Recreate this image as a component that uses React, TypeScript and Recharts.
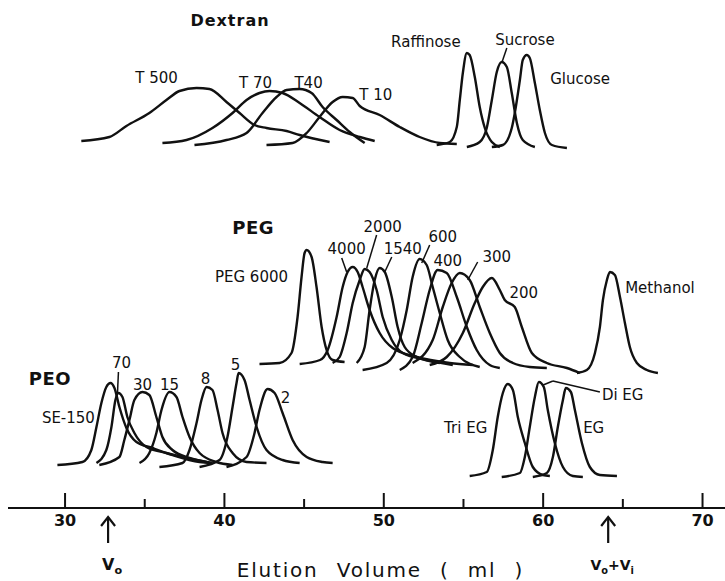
import React from "react";
import { LineChart, Line, XAxis, YAxis, ReferenceDot, ReferenceLine } from "recharts";

// ---- Chromatograms: elution volume (ml) and detector response (arb. units, stacked) ----
// Dextran group
const t500Vol = [31.02, 32.78, 33.85, 35.29, 36.36, 37.18, 38.25, 39.06, 40.13, 40.95, 41.89, 42.64, 43.9, 44.72, 46.6];
const t500Sig = [378, 382, 393, 406, 419, 428, 431, 430, 417, 406, 394, 391, 388, 384, 377];
const t70Vol = [36.11, 37.62, 39.25, 40.51, 41.39, 42.2, 42.83, 43.65, 44.72, 45.97, 47.23, 48.49, 49.43];
const t70Sig = [376, 379, 391, 406, 419, 426, 428, 426, 416, 402, 389, 382, 378];
const t40Vol = [38.12, 40.13, 41.39, 42.39, 43.27, 43.9, 44.72, 45.47, 46.16, 47.04, 47.86, 48.8];
const t40Sig = [374, 379, 386, 406, 422, 429, 430, 426, 412, 399, 387, 376];
const t10Vol = [42.64, 44.28, 45.16, 45.97, 46.79, 47.42, 48.05, 48.49, 49.74, 51.0, 52.25, 53.51, 54.58];
const t10Sig = [374, 376, 386, 402, 417, 422, 421, 413, 404, 392, 382, 376, 375];
const raffVol = [53.32, 54.14, 54.58, 54.77, 54.96, 55.21, 55.39, 55.71, 56.02, 56.34, 56.78, 57.28];
const raffSig = [374, 377, 392, 419, 446, 466, 464, 442, 412, 391, 377, 372];
const sucVol = [55.21, 56.02, 56.46, 56.78, 57.09, 57.4, 57.72, 58.03, 58.35, 58.72, 59.48];
const sucSig = [372, 377, 391, 419, 447, 457, 452, 426, 396, 379, 372];
const gluVol = [56.78, 57.47, 58.03, 58.22, 58.54, 58.72, 58.97, 59.16, 59.48, 59.79, 60.11, 60.55, 61.49];
const gluSig = [372, 374, 391, 406, 439, 459, 464, 461, 436, 409, 386, 374, 371];

// PEG group
const peg6000Vol = [42.2, 43.46, 44.21, 44.59, 44.84, 45.03, 45.16, 45.47, 45.78, 46.1, 46.41, 46.79, 47.54];
const peg6000Sig = [155, 156, 166, 202, 242, 266, 269, 262, 232, 192, 169, 159, 157];
const peg4000Vol = [44.72, 46.0, 46.48, 47.04, 47.42, 47.73, 48.05, 48.36, 48.67, 49.11, 49.74, 50.56, 52.07, 54.14, 55.58];
const peg4000Sig = [155, 159, 169, 202, 232, 247, 252, 247, 232, 209, 186, 171, 162, 156, 154];
const peg2000Vol = [46.79, 47.23, 47.67, 48.05, 48.49, 48.8, 49.11, 49.55, 49.93, 50.5, 51.19, 52.69, 54.33];
const peg2000Sig = [156, 162, 186, 216, 239, 250, 247, 229, 202, 179, 166, 159, 154];
const peg1540Vol = [48.3, 48.8, 49.11, 49.43, 49.74, 50.06, 50.5, 50.87, 51.31, 52.07, 53.51];
const peg1540Sig = [156, 172, 209, 239, 251, 247, 222, 192, 172, 162, 156];
const peg600Vol = [48.67, 50.18, 51.0, 51.44, 51.81, 52.25, 52.69, 53.07, 53.51, 54.01, 54.77, 56.02];
const peg600Sig = [149, 156, 179, 209, 242, 260, 254, 232, 206, 179, 162, 152];
const peg400Vol = [51.0, 51.81, 52.38, 52.88, 53.38, 53.95, 54.58, 55.21, 55.83, 56.65, 57.28];
const peg400Sig = [149, 162, 196, 229, 249, 246, 222, 192, 169, 154, 151];
const peg300Vol = [51.81, 53.07, 53.7, 54.26, 54.77, 55.39, 56.02, 56.65, 57.28, 58.1, 59.16, 60.23];
const peg300Sig = [156, 179, 212, 236, 246, 239, 212, 186, 166, 156, 152, 151];
const peg200Vol = [52.88, 53.95, 54.96, 55.71, 56.21, 56.78, 57.28, 57.59, 58.22, 58.66, 59.29, 60.23, 61.49, 62.3];
const peg200Sig = [154, 162, 186, 216, 232, 241, 229, 219, 212, 192, 166, 156, 151, 146];
const methVol = [62.12, 62.74, 63.25, 63.56, 63.75, 64.0, 64.19, 64.5, 64.82, 65.13, 65.44, 65.88, 66.51, 67.2];
const methSig = [146, 149, 166, 192, 219, 239, 247, 244, 222, 196, 172, 156, 149, 146];

// PEO group
const se150Vol = [29.52, 31.09, 31.65, 31.97, 32.28, 32.59, 32.85, 33.1, 33.41, 33.85, 34.48, 35.48, 36.74, 38.44, 39.25];
const se150Sig = [54, 57, 69, 92, 116, 132, 136, 131, 112, 91, 77, 71, 64, 57, 56];
const peo70Vol = [31.97, 32.59, 32.91, 33.16, 33.35, 33.6, 33.91, 34.35, 35.11, 36.36, 37.62, 38.88];
const peo70Sig = [56, 69, 92, 119, 126, 122, 102, 86, 72, 66, 61, 57];
const peo30Vol = [32.15, 33.41, 33.72, 34.04, 34.35, 34.86, 35.29, 35.73, 36.11, 36.74, 37.81, 39.25];
const peo30Sig = [54, 62, 79, 99, 119, 127, 124, 102, 82, 69, 61, 56];
const peo15Vol = [34.67, 35.29, 35.73, 36.05, 36.55, 36.99, 37.37, 37.81, 38.44, 39.5, 40.51];
const peo15Sig = [56, 66, 86, 109, 127, 122, 102, 82, 66, 57, 54];
const peo8Vol = [35.92, 37.37, 37.81, 38.25, 38.56, 38.88, 39.25, 39.57, 39.88, 40.51, 41.39, 42.64];
const peo8Sig = [52, 56, 69, 96, 119, 132, 129, 109, 86, 66, 57, 56];
const peo5Vol = [38.44, 39.69, 40.19, 40.51, 40.76, 40.89, 41.26, 41.58, 42.02, 42.64, 43.65, 44.72];
const peo5Sig = [52, 59, 82, 112, 136, 146, 139, 119, 92, 69, 59, 56];
const peo2Vol = [40.13, 41.39, 41.89, 42.2, 42.71, 43.15, 43.65, 44.28, 45.16, 46.16, 46.79];
const peo2Sig = [52, 62, 86, 109, 130, 126, 106, 79, 62, 57, 56];
const triEgVol = [55.39, 56.46, 56.84, 57.15, 57.47, 57.78, 58.1, 58.41, 58.85, 59.35, 59.98, 60.42];
const triEgSig = [43, 47, 69, 102, 126, 135, 129, 102, 76, 52, 44, 43];
const diEgVol = [57.4, 58.54, 58.85, 59.16, 59.48, 59.73, 60.04, 60.29, 60.73, 61.24, 61.86, 62.49];
const diEgSig = [42, 46, 62, 92, 122, 137, 132, 109, 76, 52, 43, 42];
const egVol = [59.35, 60.23, 60.61, 60.92, 61.24, 61.42, 61.74, 61.99, 62.43, 62.93, 63.56, 64.63];
const egSig = [42, 46, 62, 92, 119, 131, 127, 109, 76, 52, 44, 43];

// ---- Annotations ----
const titleText = ["Dextran", "PEG", "PEO"];
const titleVol = [40.35, 41.8, 29.05];
const titleSig = [499, 292, 141];

const labelText = [
  "T 500", "T 70", "T40", "T 10", "Raffinose", "Sucrose", "Glucose",
  "PEG 6000", "4000", "2000", "1540", "600", "400", "300", "200", "Methanol",
  "70", "30", "15", "8", "5", "2", "SE-150", "Tri EG", "Di EG", "EG",
];
const labelVol = [
  35.74, 41.95, 45.28, 49.5, 52.64, 58.86, 62.32,
  41.7, 47.67, 49.93, 51.19, 53.7, 54.01, 57.09, 58.78, 67.33,
  33.54, 34.86, 36.55, 38.81, 40.7, 43.84, 30.21, 55.14, 64.99, 63.17,
];
const labelSig = [
  441, 436, 436, 424, 477, 479, 440,
  242, 270, 292, 270, 282, 258, 262, 226, 231,
  156, 134, 134, 140, 154, 121, 101, 91, 124, 91,
];

const leaderFromVol = [57.72, 47.36, 49.55, 50.5, 52.88, 55.89, 33.35, 60.0, 60.61];
const leaderFromSig = [471, 261, 284, 262, 274, 257, 147, 134, 138];
const leaderToVol = [57.4, 47.67, 48.93, 50.06, 52.38, 55.27, 33.29, 60.61, 63.56];
const leaderToSig = [456, 247, 251, 247, 256, 239, 126, 138, 127];

// ---- Axis ----
const majorTicks = [30, 40, 50, 60, 70];
const minorTicks = [35, 45, 55, 65];
const markerTicks = [32.7, 64.08];
const markerLabels = ["V_o", "V_o+V_i"];
const axisTitle = "Elution Volume ( ml )";

const zip = (v: number[], s: number[]) => v.map((x, i) => ({ v: x, y: s[i] }));

const curves = [
  zip(t500Vol, t500Sig), zip(t70Vol, t70Sig), zip(t40Vol, t40Sig), zip(t10Vol, t10Sig),
  zip(raffVol, raffSig), zip(sucVol, sucSig), zip(gluVol, gluSig),
  zip(peg6000Vol, peg6000Sig), zip(peg4000Vol, peg4000Sig), zip(peg2000Vol, peg2000Sig),
  zip(peg1540Vol, peg1540Sig), zip(peg600Vol, peg600Sig), zip(peg400Vol, peg400Sig),
  zip(peg300Vol, peg300Sig), zip(peg200Vol, peg200Sig), zip(methVol, methSig),
  zip(se150Vol, se150Sig), zip(peo70Vol, peo70Sig), zip(peo30Vol, peo30Sig),
  zip(peo15Vol, peo15Sig), zip(peo8Vol, peo8Sig), zip(peo5Vol, peo5Sig), zip(peo2Vol, peo2Sig),
  zip(triEgVol, triEgSig), zip(diEgVol, diEgSig), zip(egVol, egSig),
];

const FONT = "'DejaVu Sans', 'Liberation Sans', sans-serif";
const INK = "#111";

const renderSubText = (s: string, size: number) => {
  const parts = s.split(/(_\w)/).filter((p) => p.length > 0);
  return parts.map((p, i) =>
    p.startsWith("_") ? (
      <tspan key={i} fontSize={size * 0.7} dy={size * 0.25}>{p.slice(1)}</tspan>
    ) : (
      <tspan key={i} dy={i > 0 && parts[i - 1].startsWith("_") ? -size * 0.25 : 0}>{p}</tspan>
    )
  );
};

const AxisTick = (props: any) => {
  const { x, y, payload } = props;
  const val = payload.value;
  if (majorTicks.includes(val)) {
    return (
      <g>
        <line x1={x} x2={x} y1={y - 15} y2={y} stroke={INK} strokeWidth={2} />
        <text x={x} y={y + 18} textAnchor="middle" fontSize={16} fontWeight="bold" fontFamily={FONT} fill={INK}>
          {val}
        </text>
      </g>
    );
  }
  if (minorTicks.includes(val)) {
    return <line x1={x} x2={x} y1={y - 9} y2={y} stroke={INK} strokeWidth={2} />;
  }
  const idx = markerTicks.indexOf(val);
  if (idx >= 0) {
    const size = idx === 0 ? 16 : 14;
    return (
      <g>
        <line x1={x} x2={x} y1={y + 9} y2={y + 35} stroke={INK} strokeWidth={2.2} />
        <polyline points={`${x - 7},${y + 18} ${x},${y + 9} ${x + 7},${y + 18}`} fill="none" stroke={INK} strokeWidth={2.2} />
        <text x={x + 4} y={y + 62} textAnchor="middle" fontSize={size} fontWeight="bold" fontFamily={FONT} fill={INK}>
          {renderSubText(markerLabels[idx], size)}
        </text>
      </g>
    );
  }
  return null;
};

const AxisTitle = (props: any) => {
  const vb = props.viewBox || { x: 10, y: 508, width: 715, height: 40 };
  return (
    <text
      x={vb.x + vb.width / 2 + 14}
      y={vb.y + 69}
      textAnchor="middle"
      fontSize={20}
      letterSpacing={1.8}
      wordSpacing={10}
      fontFamily={FONT}
      fill={INK}
    >
      {axisTitle}
    </text>
  );
};

export default function App() {
  return (
    <div style={{ position: "absolute", left: 0, top: 0, width: 725, height: 581, background: "#fff" }}>
      <LineChart width={725} height={581} margin={{ top: 8, right: 0, left: 8, bottom: 33 }}>
        <XAxis
          type="number"
          dataKey="v"
          domain={[26.42, 71.41]}
          allowDataOverflow
          ticks={[...majorTicks, ...minorTicks, ...markerTicks].sort((a, b) => a - b)}
          interval={0}
          tickLine={false}
          tickSize={0}
          tickMargin={0}
          height={40}
          axisLine={{ stroke: INK, strokeWidth: 2 }}
          tick={AxisTick}
          label={AxisTitle}
        />
        <YAxis type="number" hide domain={[11, 511]} allowDataOverflow />
        {curves.map((d, i) => (
          <Line
            key={i}
            data={d}
            dataKey="y"
            type="monotone"
            stroke={INK}
            strokeWidth={2.4}
            dot={false}
            activeDot={false}
            isAnimationActive={false}
          />
        ))}
        {leaderFromVol.map((v, i) => (
          <ReferenceLine
            key={"ld" + i}
            segment={[
              { x: v, y: leaderFromSig[i] },
              { x: leaderToVol[i], y: leaderToSig[i] },
            ]}
            stroke={INK}
            strokeWidth={1.5}
          />
        ))}
        {titleText.map((t, i) => (
          <ReferenceDot
            key={"t" + i}
            x={titleVol[i]}
            y={titleSig[i]}
            r={0}
            shape={(p: any) => (
              <text x={p.cx} y={p.cy} textAnchor="middle" dominantBaseline="central" fontSize={i === 0 ? 16 : 18} fontWeight="bold" letterSpacing={i === 0 ? 1 : 0.5} fontFamily={FONT} fill={INK}>
                {t}
              </text>
            )}
          />
        ))}
        {labelText.map((t, i) => (
          <ReferenceDot
            key={"l" + i}
            x={labelVol[i]}
            y={labelSig[i]}
            r={0}
            shape={(p: any) => (
              <text x={p.cx} y={p.cy} textAnchor="middle" dominantBaseline="central" fontSize={15} fontFamily={FONT} fill={INK}>
                {t}
              </text>
            )}
          />
        ))}
      </LineChart>
    </div>
  );
}
